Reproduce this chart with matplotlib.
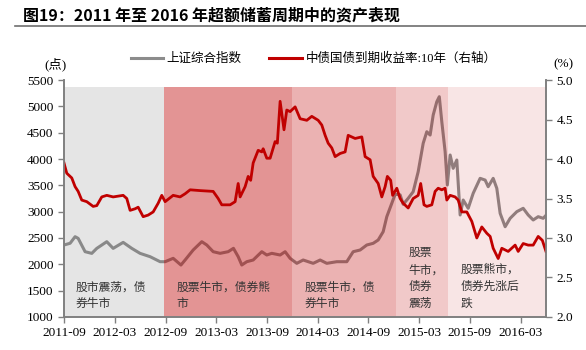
import matplotlib
matplotlib.use('Agg')
import matplotlib.pyplot as plt
import pandas as pd
from matplotlib.lines import Line2D

plt.rcParams['font.family'] = ['Liberation Serif', 'Noto Sans CJK SC']
plt.rcParams['axes.unicode_minus'] = False

# 上证综合指数
sh_dates = ['2011-09-30', '2011-10-22', '2011-11-09', '2011-11-20', '2011-12-15',
            '2012-01-08', '2012-01-26', '2012-03-02', '2012-03-25', '2012-04-30',
            '2012-05-31', '2012-06-30', '2012-08-05', '2012-09-10', '2012-09-28',
            '2012-10-27', '2012-11-24', '2012-12-09', '2013-01-07', '2013-02-07',
            '2013-02-25', '2013-03-20', '2013-04-14', '2013-05-13', '2013-06-01',
            '2013-06-18', '2013-07-01', '2013-07-19', '2013-08-11', '2013-09-11',
            '2013-09-29', '2013-10-17', '2013-11-16', '2013-12-04', '2013-12-22',
            '2014-01-15', '2014-02-07', '2014-03-15', '2014-04-09', '2014-05-03',
            '2014-06-08', '2014-07-14', '2014-08-06', '2014-08-31', '2014-09-24',
            '2014-10-17', '2014-11-04', '2014-11-22', '2014-12-05', '2014-12-23',
            '2015-01-04', '2015-01-22', '2015-02-02', '2015-02-20', '2015-03-10',
            '2015-03-28', '2015-04-15', '2015-04-28', '2015-05-10', '2015-05-21',
            '2015-06-03', '2015-06-12', '2015-06-21', '2015-07-03', '2015-07-11',
            '2015-07-21', '2015-08-01', '2015-08-14', '2015-08-26', '2015-09-06',
            '2015-09-24', '2015-10-12', '2015-11-06', '2015-11-24', '2015-12-05',
            '2015-12-23', '2016-01-05', '2016-01-17', '2016-02-04', '2016-02-22',
            '2016-03-17', '2016-04-09', '2016-04-27', '2016-05-15', '2016-06-02',
            '2016-06-20', '2016-06-30']
sh_values = [2367, 2400, 2525, 2493, 2240,
             2208, 2303, 2430, 2303, 2417,
             2303, 2208, 2145, 2050, 2050,
             2114, 1987, 2082, 2272, 2430,
             2367, 2240, 2209, 2240, 2304,
             2146, 1987, 2050, 2082, 2240,
             2177, 2209, 2177, 2240, 2114,
             2019, 2082, 2019, 2082, 2019,
             2050, 2050, 2240, 2272, 2367,
             2399, 2462, 2620, 2905, 3159,
             3330, 3320, 3140, 3253, 3379,
             3759, 4298, 4518, 4455, 4835,
             5088, 5183, 4708, 4138, 3506,
             4076, 3823, 3981, 2937, 3221,
             3064, 3349, 3633, 3600, 3474,
             3633, 3443, 2969, 2714, 2874,
             3000, 3064, 2937, 2842, 2905,
             2874, 2930]

# 中债国债到期收益率:10年
yd_dates = ['2011-09-30', '2011-10-10', '2011-10-28', '2011-11-09', '2011-11-20',
            '2011-12-03', '2011-12-21', '2012-01-13', '2012-01-26', '2012-02-13',
            '2012-03-02', '2012-03-25', '2012-04-30', '2012-05-13', '2012-05-25',
            '2012-06-12', '2012-06-23', '2012-07-11', '2012-07-29', '2012-08-16',
            '2012-09-03', '2012-09-16', '2012-09-28', '2012-10-27', '2012-11-21',
            '2012-12-09', '2012-12-27', '2013-02-01', '2013-03-20', '2013-04-07',
            '2013-04-20', '2013-05-20', '2013-06-07', '2013-06-18', '2013-06-25',
            '2013-07-13', '2013-07-24', '2013-08-02', '2013-08-11', '2013-08-29',
            '2013-09-11', '2013-09-16', '2013-09-29', '2013-10-11', '2013-10-29',
            '2013-11-06', '2013-11-16', '2013-11-30', '2013-12-10', '2013-12-22',
            '2014-01-09', '2014-01-27', '2014-02-20', '2014-03-10', '2014-04-02',
            '2014-04-15', '2014-04-27', '2014-05-08', '2014-05-21', '2014-06-02',
            '2014-06-20', '2014-07-08', '2014-07-19', '2014-08-13', '2014-09-06',
            '2014-09-18', '2014-10-06', '2014-10-17', '2014-11-04', '2014-11-17',
            '2014-11-29', '2014-12-07', '2014-12-19', '2014-12-26', '2015-01-10',
            '2015-01-22', '2015-02-02', '2015-02-20', '2015-03-10', '2015-03-28',
            '2015-04-06', '2015-04-18', '2015-04-28', '2015-05-16', '2015-05-28',
            '2015-06-08', '2015-06-21', '2015-07-03', '2015-07-09', '2015-07-21',
            '2015-08-08', '2015-08-19', '2015-09-01', '2015-09-19', '2015-10-07',
            '2015-10-25', '2015-11-12', '2015-11-30', '2015-12-12', '2015-12-23',
            '2016-01-10', '2016-01-23', '2016-02-15', '2016-03-11', '2016-03-22',
            '2016-04-09', '2016-04-27', '2016-05-15', '2016-06-02', '2016-06-17',
            '2016-06-30']
yd_values = [3.95, 3.82, 3.76, 3.65, 3.59,
             3.48, 3.46, 3.40, 3.41, 3.52,
             3.54, 3.52, 3.54, 3.50, 3.35,
             3.37, 3.39, 3.27, 3.29, 3.33,
             3.44, 3.54, 3.46, 3.54, 3.52,
             3.56, 3.61, 3.60, 3.59, 3.50,
             3.42, 3.42, 3.46, 3.69, 3.52,
             3.65, 3.78, 3.73, 3.95, 4.11,
             4.09, 4.13, 4.01, 4.01, 4.22,
             4.20, 4.73, 4.37, 4.62, 4.60,
             4.66, 4.51, 4.49, 4.54, 4.49,
             4.43, 4.30, 4.20, 4.14, 4.03,
             4.07, 4.09, 4.30, 4.26, 4.28,
             4.03, 3.99, 3.78, 3.69, 3.52,
             3.65, 3.78, 3.73, 3.54, 3.63,
             3.50, 3.44, 3.38, 3.50, 3.54,
             3.69, 3.42, 3.40, 3.42, 3.59,
             3.63, 3.61, 3.63, 3.48, 3.54,
             3.52, 3.48, 3.33, 3.33, 3.21,
             3.00, 3.14, 3.06, 3.02, 2.87,
             2.74, 2.87, 2.83, 2.91, 2.83,
             2.93, 2.91, 2.91, 3.02, 2.97,
             2.83]

# 阶段划分
phase_starts = ['2011-09-30', '2012-09-24', '2013-12-29', '2015-01-08', '2015-07-13']
phase_ends = ['2012-09-24', '2013-12-29', '2015-01-08', '2015-07-13', '2016-06-30']
phase_labels = ['股市震荡，债\n券牛市', '股票牛市，债券熊\n市', '股票牛市，债\n券牛市',
                '股票\n牛市，\n债券\n震荡', '股票熊市，\n债券先涨后\n跌']

tick_months = ['2011-09-30', '2012-03-31', '2012-09-30', '2013-03-31', '2013-09-30',
               '2014-03-31', '2014-09-30', '2015-03-31', '2015-09-30', '2016-03-31']

phase_colors = [('#808080', 0.2), ('#be0000', 0.42), ('#be0000', 0.30),
                ('#be0000', 0.21), ('#be0000', 0.10)]
label_pos = [(0.025, 0.155), (0.234, 0.155), (0.500, 0.155), (0.714, 0.298), (0.822, 0.228)]

fig = plt.figure(figsize=(5.86, 3.5), dpi=100)
ax = fig.add_axes([0.1092, 0.0943, 0.8225, 0.6771])
ax2 = ax.twinx()

sh_x = pd.to_datetime(sh_dates)
yd_x = pd.to_datetime(yd_dates)

ax.plot(sh_x, sh_values, color='#8c8c8c', lw=2.2, zorder=1)
for s, e, (c, a) in zip(phase_starts, phase_ends, phase_colors):
    ax.axvspan(pd.Timestamp(s), pd.Timestamp(e), ymin=0, ymax=0.97,
               color=c, alpha=a, lw=0, zorder=2)
for txt, (px, py) in zip(phase_labels, label_pos):
    ax.text(px, py, txt, transform=ax.transAxes, fontsize=8.5, color='#333333',
            va='top', ha='left', linespacing=1.4,
            family=['Noto Sans CJK SC'], zorder=3)

ax2.plot(yd_x, yd_values, color='#c00000', lw=2.0)

ax.set_xlim(pd.Timestamp('2011-09-30'), pd.Timestamp('2016-06-30'))
ax.set_ylim(1000, 5500)
ax.set_yticks(range(1000, 5501, 500))
ax2.set_ylim(2.0, 5.0)
ax2.set_yticks([2.0, 2.5, 3.0, 3.5, 4.0, 4.5, 5.0])
ax2.set_yticklabels([f'{v:.1f}' for v in [2.0, 2.5, 3.0, 3.5, 4.0, 4.5, 5.0]])

ticks = pd.to_datetime(tick_months)
ax.set_xticks(ticks)
ax.set_xticklabels([t.strftime('%Y-%m') for t in ticks])

for a in (ax, ax2):
    a.spines['top'].set_visible(False)
    for sp in ('left', 'right', 'bottom'):
        a.spines[sp].set_color('#808080')
        a.spines[sp].set_linewidth(1.2)
    a.tick_params(axis='both', colors='#808080', labelcolor='black',
                  labelsize=9.5, length=4, width=1.0, direction='out')
    a.patch.set_visible(False)

fig.text(0.094, 0.815, '(点)', fontsize=9.5, ha='center', va='center')
fig.text(0.961, 0.815, '(%)', fontsize=9.5, ha='center', va='center')

handles = [Line2D([], [], color='#8c8c8c', lw=2.2),
           Line2D([], [], color='#c00000', lw=2.2)]
fig.legend(handles, ['上证综合指数', '中债国债到期收益率:10年（右轴）'],
           loc='center', bbox_to_anchor=(0.535, 0.832), ncol=2, frameon=False,
           fontsize=9, handlelength=2.6, columnspacing=2.2, handletextpad=0.3)

fig.text(0.04, 0.955, '图19：2011 年至 2016 年超额储蓄周期中的资产表现',
         fontsize=11.5, fontweight='bold', ha='left', va='center',
         family=['Noto Sans CJK SC'])
fig.add_artist(Line2D([0.025, 1.0], [0.925, 0.925], transform=fig.transFigure,
                      color='#6e6e6e', lw=1.2))

fig.savefig('out.png', dpi=100)
